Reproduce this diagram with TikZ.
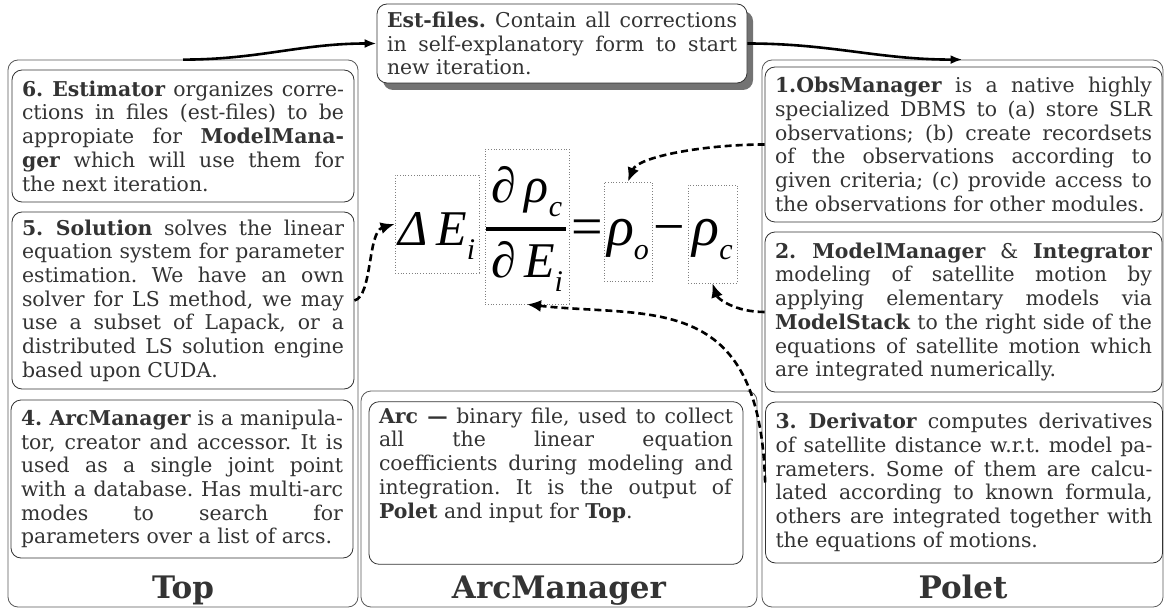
\documentclass[tikz,border=0pt]{standalone}
\usepackage{fontspec}
\setmainfont{DejaVu Serif}
\newfontfamily\eqfont{Liberation Serif}
\usetikzlibrary{arrows.meta,shadows}
\newcommand\lowidx[1]{\raisebox{-7pt}{\fontsize{15}{15}\selectfont #1}}
\newcommand\cardfont{\fontsize{10.2}{11.85}\selectfont\frenchspacing\tolerance=10000\relax}

\begin{document}
\begin{tikzpicture}[x=0.5pt,y=-0.5pt]
\tikzstyle{column}=[draw=black!65,rounded corners=5pt,thin]
\tikzstyle{card}=[draw=black!80,fill=white,rounded corners=5pt,inner xsep=5pt,inner ysep=3pt,align=justify,text=black!80,font=\cardfont]
\tikzstyle{title}=[anchor=base,text=black!80,font=\fontsize{15.5}{18}\selectfont\bfseries]
\tikzstyle{term}=[draw=black!50,densely dotted,anchor=base,inner sep=0pt,font=\eqfont\itshape\fontsize{25}{30}\selectfont]
\tikzstyle{bigterm}=[term,font=\eqfont\itshape\fontsize{28}{30}\selectfont]
\tikzstyle{flow}=[line width=1.3pt,-{Latex[length=6pt,width=4.5pt]}]
\tikzstyle{link}=[line width=1.3pt,dash pattern=on 3.5pt off 2pt,-{Latex[length=7pt,width=6pt]}]
\useasboundingbox (0,0) rectangle (1165,609);
% the three modules
\node[column,minimum width=175pt,minimum height=273.5pt] (top) at (183,333.5) {};
\node[column,minimum width=198pt,minimum height=108pt] (arcm) at (559,499) {};
\node[column,minimum width=200.5pt,minimum height=273.5pt] (polet) at (962.5,333.5) {};
\node[title] (toplbl) at (183,598) {Top};
\node[title] (arclbl) at (559,598) {ArcManager};
\node[title] (poletlbl) at (963,598) {Polet};
% Top
\node[card,text width=161pt,minimum height=66pt] (b6) at (183,136) {\textbf{6. Estimator} organizes corre-\linebreak ctions in files (est-files) to be\linebreak appropiate for \textbf{ModelMana-}\linebreak \textbf{ger} which will use them for\linebreak the next iteration.};
\node[card,text width=161pt,minimum height=88.5pt] (b5) at (183,300.5) {\textbf{5. Solution} solves the linear\linebreak equation system for parameter\linebreak estimation. We have an own\linebreak solver for LS method, we may\linebreak use a subset of Lapack, or a\linebreak distributed LS solution engine\linebreak based upon CUDA.};
\node[card,text width=161pt,minimum height=79pt] (b4) at (182,479) {\textbf{4. ArcManager} is a manipula-\linebreak tor, creator and accessor. It is\linebreak used as a single joint point\linebreak with a database. Has multi-arc\linebreak modes to search for\linebreak parameters over a list of arcs.};
% ArcManager
\node[card,text width=177pt,minimum height=80pt] (arc) at (556,483) {\textbf{Arc —} binary file, used to collect\linebreak all the linear equation\linebreak coefficients during modeling and\linebreak integration. It is the output of\linebreak \textbf{Polet} and input for \textbf{Top}.\par\vspace*{18pt}};
% Polet
\node[card,text width=188.5pt,minimum height=77.5pt] (b1) at (963.5,144.5) {\textbf{1.ObsManager} is a native highly\linebreak specialized DBMS to (a) store SLR\linebreak observations; (b) create recordsets\linebreak of the observations according to\linebreak given criteria; (c) provide access to\linebreak the observations for other modules.};
\node[card,text width=188.5pt,minimum height=80pt] (b2) at (963.5,312) {\textbf{2. ModelManager} \& \textbf{Integrator}\linebreak modeling of satellite motion by\linebreak applying elementary models via\linebreak \textbf{ModelStack} to the right side of the\linebreak equations of satellite motion which\linebreak are integrated numerically.};
\node[card,text width=188.5pt,minimum height=80.5pt] (b3) at (964,482.5) {\textbf{3. Derivator} computes derivatives\linebreak of satellite distance w.r.t. model pa-\linebreak rameters. Some of them are calcu-\linebreak lated according to known formula,\linebreak others are integrated together with\linebreak the equations of motions.};
% est-files
\node[card,text width=175pt,minimum height=39.5pt,drop shadow={shadow xshift=3pt,shadow yshift=-3.5pt,fill=black!55,opacity=1}] (est) at (562,43.5) {\textbf{Est-files.} Contain all corrections\linebreak in self-explanatory form to start\linebreak new iteration.};
% equation
\node[term,minimum width=42pt,text height=35pt,text depth=14pt] (dE) at (437,245) {Δ\,E\lowidx{i}};
\node[term,minimum width=42pt,text height=64pt,text depth=13.5pt] (frac) at (527,277) {\vbox{\offinterlineskip
  \hbox to 42pt{\hss∂\,ρ\lowidx{c}\hss}\kern12.1pt
  \hbox to 42pt{\hss∂\,E\lowidx{i}\hss}}};
\draw[line width=1.6pt] (486,229) -- (566,229);
\node[anchor=base,inner sep=0pt,font=\eqfont\fontsize{28}{30}\selectfont] (eq) at (587,245) {=};
\node[bigterm,minimum width=24pt,text height=31.5pt,text depth=18pt] (rhoo) at (628,245) {ρ\lowidx{o}};
\node[anchor=base,inner sep=0pt,font=\eqfont\fontsize{28}{30}\selectfont] (minus) at (669.5,245) {−};
\node[bigterm,minimum width=24.5pt,text height=30pt,text depth=19pt] (rhoc) at (712.5,245) {ρ\lowidx{c}};
% arrows
\draw[flow] (top.north) to[out=0,in=180] (est.west);
\draw[flow] (est.east) to[out=0,in=180] (polet.north);
\draw[link] (b5.east) .. controls +(18,-4) and +(-27,8) .. (dE.west);
\draw[link] (b1.west) .. controls +(-60,0) and +(10,-25) .. (rhoo.north);
\draw[link] (b2.west) .. controls +(-30,0) and +(5,15) .. (rhoc.south);
\draw[link] (b3.west) .. controls (760,290) and (650,318) .. (frac.south);
\end{tikzpicture}
\end{document}
